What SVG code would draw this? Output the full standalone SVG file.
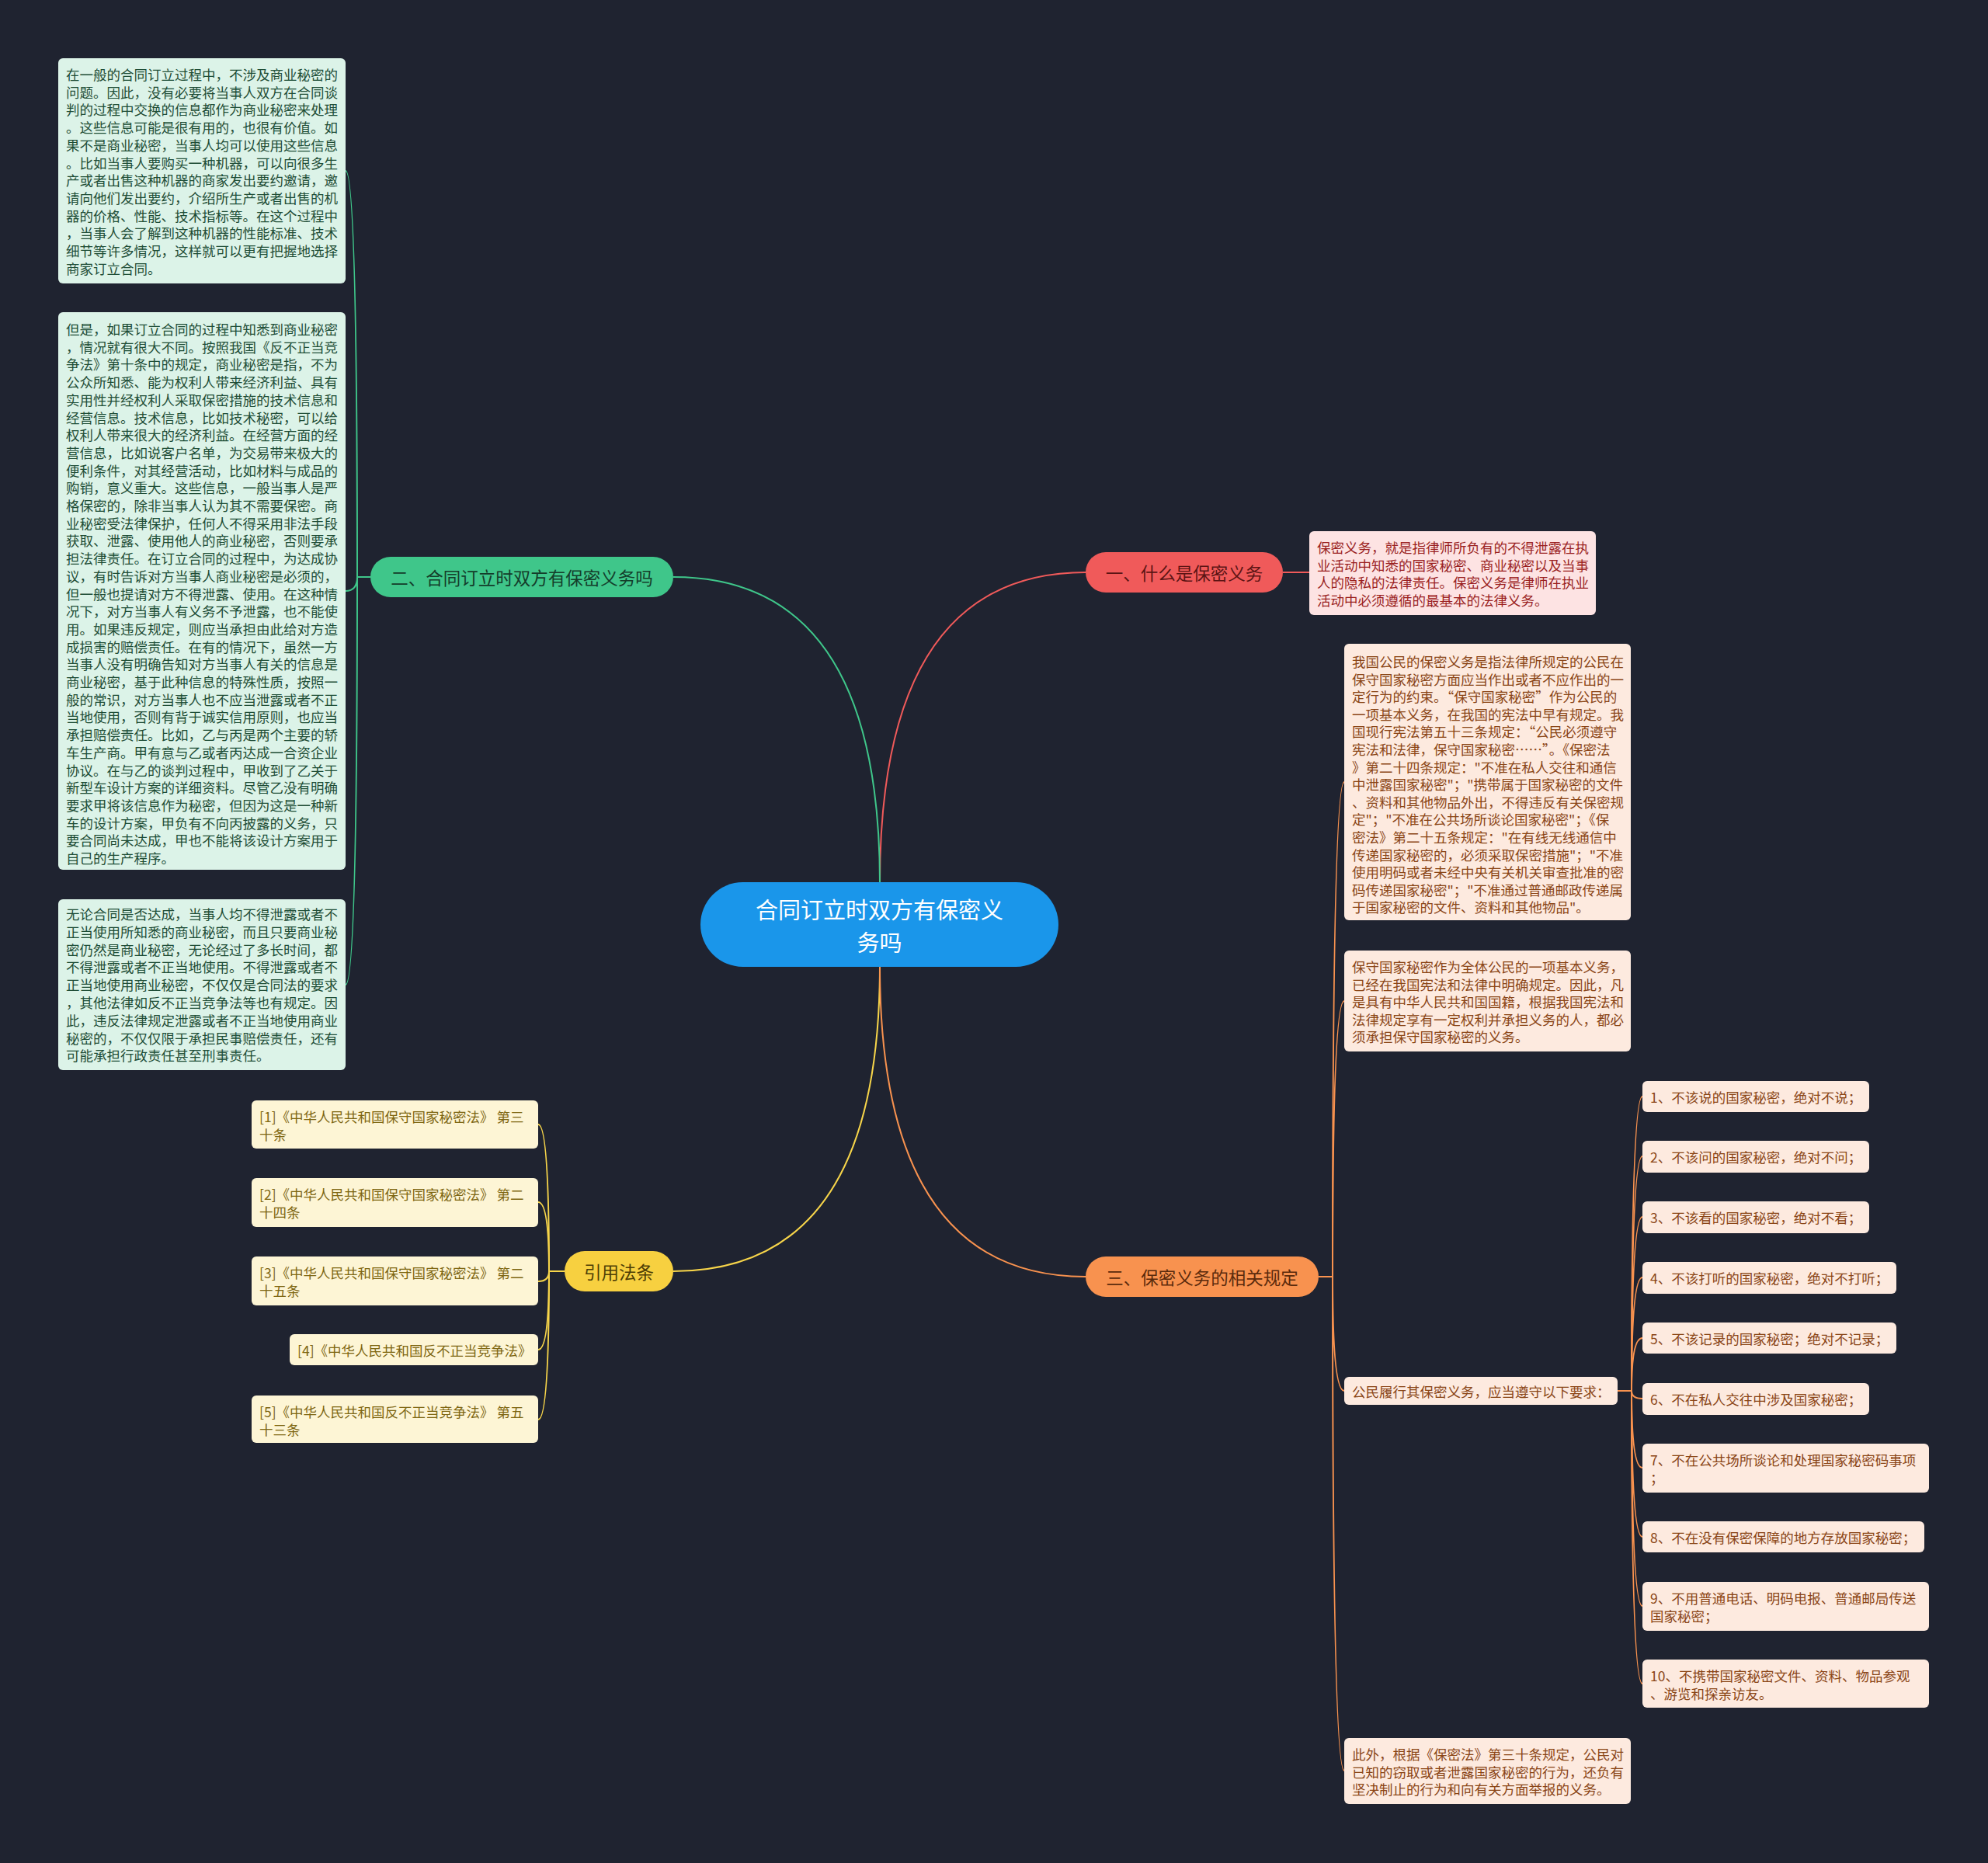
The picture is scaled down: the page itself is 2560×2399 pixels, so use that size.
<svg xmlns="http://www.w3.org/2000/svg" width="2560" height="2399" viewBox="0 0 2560 2399">
<style>
text{font-family:"Noto Sans CJK SC","Noto Sans",sans-serif;dominant-baseline:central}
.lf{font-size:17.5px}
.br{font-size:22.5px;text-anchor:middle}
.g rect{fill:#dcf3e8}.g text{fill:#1e4d36}
.r rect{fill:#fde3e3}.r text{fill:#9a1f1f}
.o rect{fill:#fdeadf}.o text{fill:#8a4516}
.y rect{fill:#fdf5d5}.y text{fill:#7d6611}
.c{fill:none;stroke-width:2}
</style>
<rect width="2560" height="2399" fill="#1f2330"/>
<g id="connectors">
<path class="c" stroke="#f05a5a" d="M1133,1137 Q1133,737 1398,737"/>
<path class="c" stroke="#3fc68a" d="M1133,1137 Q1133,743 867,743"/>
<path class="c" stroke="#f7d54a" d="M1133,1244 Q1133,1637 867,1637"/>
<path class="c" stroke="#f8924f" d="M1133,1244 Q1133,1644 1398,1644"/>
<path class="c" stroke="#f05a5a" d="M1652,737 L1686,737"/>
<path class="c" stroke="#3fc68a" d="M477,743 L460,743 Q460,220 445,220"/>
<path class="c" stroke="#3fc68a" d="M477,743 L460,743 Q460,761 445,761"/>
<path class="c" stroke="#3fc68a" d="M477,743 L460,743 Q460,1268 445,1268"/>
<path class="c" stroke="#f7d54a" d="M727,1637 L707,1637 Q707,1448 693,1448"/>
<path class="c" stroke="#f7d54a" d="M727,1637 L707,1637 Q707,1548 693,1548"/>
<path class="c" stroke="#f7d54a" d="M727,1637 L707,1637 Q707,1650 693,1650"/>
<path class="c" stroke="#f7d54a" d="M727,1637 L707,1637 Q707,1738 693,1738"/>
<path class="c" stroke="#f7d54a" d="M727,1637 L707,1637 Q707,1828 693,1828"/>
<path class="c" stroke="#f8924f" d="M1698,1644 L1716,1644 Q1716,1007 1731,1007"/>
<path class="c" stroke="#f8924f" d="M1698,1644 L1716,1644 Q1716,1289 1731,1289"/>
<path class="c" stroke="#f8924f" d="M1698,1644 L1716,1644 Q1716,1791 1731,1791"/>
<path class="c" stroke="#f8924f" d="M1698,1644 L1716,1644 Q1716,2280 1731,2280"/>
<path class="c" stroke="#f8924f" d="M2083,1791 L2101,1791 Q2101,1412 2115,1412"/>
<path class="c" stroke="#f8924f" d="M2083,1791 L2101,1791 Q2101,1489 2115,1489"/>
<path class="c" stroke="#f8924f" d="M2083,1791 L2101,1791 Q2101,1567 2115,1567"/>
<path class="c" stroke="#f8924f" d="M2083,1791 L2101,1791 Q2101,1645 2115,1645"/>
<path class="c" stroke="#f8924f" d="M2083,1791 L2101,1791 Q2101,1723 2115,1723"/>
<path class="c" stroke="#f8924f" d="M2083,1791 L2101,1791 Q2101,1801 2115,1801"/>
<path class="c" stroke="#f8924f" d="M2083,1791 L2101,1791 Q2101,1890 2115,1890"/>
<path class="c" stroke="#f8924f" d="M2083,1791 L2101,1791 Q2101,1979 2115,1979"/>
<path class="c" stroke="#f8924f" d="M2083,1791 L2101,1791 Q2101,2068 2115,2068"/>
<path class="c" stroke="#f8924f" d="M2083,1791 L2101,1791 Q2101,2168 2115,2168"/>
</g>
<g id="root">
<rect x="902" y="1136" width="461" height="109" rx="54.5" fill="#1a96ea"/>
<text x="1132.5" y="1170" font-size="29" fill="#ffffff" text-anchor="middle">合同订立时双方有保密义</text>
<text x="1132.5" y="1212" font-size="29" fill="#ffffff" text-anchor="middle">务吗</text>
</g>
<g id="b1">
<rect x="1398" y="711" width="254" height="52" rx="26" fill="#f05a5a"/>
<text class="br" x="1525" y="737" fill="#5c1414">一、什么是保密义务</text>
</g>
<g id="b2">
<rect x="477" y="717" width="390" height="52" rx="26" fill="#3fc68a"/>
<text class="br" x="672" y="743" fill="#143d2a">二、合同订立时双方有保密义务吗</text>
</g>
<g id="b3">
<rect x="1398" y="1618" width="300" height="52" rx="26" fill="#f8924f"/>
<text class="br" x="1548" y="1644" fill="#5a2a0c">三、保密义务的相关规定</text>
</g>
<g id="b4">
<rect x="727" y="1611" width="140" height="52" rx="26" fill="#f7d040"/>
<text class="br" x="797" y="1637" fill="#4d3d05">引用法条</text>
</g>
<g id="r1" class="r">
<rect x="1686" y="684" width="369" height="108" rx="6"/>
<text class="lf"><tspan x="1696" y="704">保密义务，就是指律师所负有的不得泄露在执</tspan><tspan x="1696" y="726.5">业活动中知悉的国家秘密、商业秘密以及当事</tspan><tspan x="1696" y="749">人的隐私的法律责任。保密义务是律师在执业</tspan><tspan x="1696" y="771.5">活动中必须遵循的最基本的法律义务。</tspan></text>
</g>
<g id="g1" class="g">
<rect x="75" y="75" width="370" height="290" rx="6"/>
<text class="lf"><tspan x="85" y="95">在一般的合同订立过程中，不涉及商业秘密的</tspan><tspan x="85" y="117.7">问题。因此，没有必要将当事人双方在合同谈</tspan><tspan x="85" y="140.4">判的过程中交换的信息都作为商业秘密来处理</tspan><tspan x="85" y="163.1">。这些信息可能是很有用的，也很有价值。如</tspan><tspan x="85" y="185.8">果不是商业秘密，当事人均可以使用这些信息</tspan><tspan x="85" y="208.5">。比如当事人要购买一种机器，可以向很多生</tspan><tspan x="85" y="231.2">产或者出售这种机器的商家发出要约邀请，邀</tspan><tspan x="85" y="253.9">请向他们发出要约，介绍所生产或者出售的机</tspan><tspan x="85" y="276.6">器的价格、性能、技术指标等。在这个过程中</tspan><tspan x="85" y="299.3">，当事人会了解到这种机器的性能标准、技术</tspan><tspan x="85" y="322">细节等许多情况，这样就可以更有把握地选择</tspan><tspan x="85" y="344.7">商家订立合同。</tspan></text>
</g>
<g id="g2" class="g">
<rect x="75" y="402" width="370" height="718" rx="6"/>
<text class="lf"><tspan x="85" y="423">但是，如果订立合同的过程中知悉到商业秘密</tspan><tspan x="85" y="445.7">，情况就有很大不同。按照我国《反不正当竞</tspan><tspan x="85" y="468.4">争法》第十条中的规定，商业秘密是指，不为</tspan><tspan x="85" y="491.1">公众所知悉、能为权利人带来经济利益、具有</tspan><tspan x="85" y="513.8">实用性并经权利人采取保密措施的技术信息和</tspan><tspan x="85" y="536.5">经营信息。技术信息，比如技术秘密，可以给</tspan><tspan x="85" y="559.2">权利人带来很大的经济利益。在经营方面的经</tspan><tspan x="85" y="581.9">营信息，比如说客户名单，为交易带来极大的</tspan><tspan x="85" y="604.6">便利条件，对其经营活动，比如材料与成品的</tspan><tspan x="85" y="627.3">购销，意义重大。这些信息，一般当事人是严</tspan><tspan x="85" y="650">格保密的，除非当事人认为其不需要保密。商</tspan><tspan x="85" y="672.7">业秘密受法律保护，任何人不得采用非法手段</tspan><tspan x="85" y="695.4">获取、泄露、使用他人的商业秘密，否则要承</tspan><tspan x="85" y="718.1">担法律责任。在订立合同的过程中，为达成协</tspan><tspan x="85" y="740.8">议，有时告诉对方当事人商业秘密是必须的，</tspan><tspan x="85" y="763.5">但一般也提请对方不得泄露、使用。在这种情</tspan><tspan x="85" y="786.2">况下，对方当事人有义务不予泄露，也不能使</tspan><tspan x="85" y="808.9">用。如果违反规定，则应当承担由此给对方造</tspan><tspan x="85" y="831.6">成损害的赔偿责任。在有的情况下，虽然一方</tspan><tspan x="85" y="854.3">当事人没有明确告知对方当事人有关的信息是</tspan><tspan x="85" y="877">商业秘密，基于此种信息的特殊性质，按照一</tspan><tspan x="85" y="899.7">般的常识，对方当事人也不应当泄露或者不正</tspan><tspan x="85" y="922.4">当地使用，否则有背于诚实信用原则，也应当</tspan><tspan x="85" y="945.1">承担赔偿责任。比如，乙与丙是两个主要的轿</tspan><tspan x="85" y="967.8">车生产商。甲有意与乙或者丙达成一合资企业</tspan><tspan x="85" y="990.5">协议。在与乙的谈判过程中，甲收到了乙关于</tspan><tspan x="85" y="1013.2">新型车设计方案的详细资料。尽管乙没有明确</tspan><tspan x="85" y="1035.9">要求甲将该信息作为秘密，但因为这是一种新</tspan><tspan x="85" y="1058.6">车的设计方案，甲负有不向丙披露的义务，只</tspan><tspan x="85" y="1081.3">要合同尚未达成，甲也不能将该设计方案用于</tspan><tspan x="85" y="1104">自己的生产程序。</tspan></text>
</g>
<g id="g3" class="g">
<rect x="75" y="1158" width="370" height="220" rx="6"/>
<text class="lf"><tspan x="85" y="1176">无论合同是否达成，当事人均不得泄露或者不</tspan><tspan x="85" y="1198.8">正当使用所知悉的商业秘密，而且只要商业秘</tspan><tspan x="85" y="1221.6">密仍然是商业秘密，无论经过了多长时间，都</tspan><tspan x="85" y="1244.4">不得泄露或者不正当地使用。不得泄露或者不</tspan><tspan x="85" y="1267.2">正当地使用商业秘密，不仅仅是合同法的要求</tspan><tspan x="85" y="1290">，其他法律如反不正当竞争法等也有规定。因</tspan><tspan x="85" y="1312.8">此，违反法律规定泄露或者不正当地使用商业</tspan><tspan x="85" y="1335.6">秘密的，不仅仅限于承担民事赔偿责任，还有</tspan><tspan x="85" y="1358.4">可能承担行政责任甚至刑事责任。</tspan></text>
</g>
<g id="y1" class="y">
<rect x="324" y="1417" width="369" height="62" rx="6"/>
<text class="lf"><tspan x="334" y="1437">[1]《中华人民共和国保守国家秘密法》 第三</tspan><tspan x="334" y="1460">十条</tspan></text>
</g>
<g id="y2" class="y">
<rect x="324" y="1517" width="369" height="63" rx="6"/>
<text class="lf"><tspan x="334" y="1537">[2]《中华人民共和国保守国家秘密法》 第二</tspan><tspan x="334" y="1560">十四条</tspan></text>
</g>
<g id="y3" class="y">
<rect x="324" y="1618" width="369" height="63" rx="6"/>
<text class="lf"><tspan x="334" y="1638">[3]《中华人民共和国保守国家秘密法》 第二</tspan><tspan x="334" y="1661">十五条</tspan></text>
</g>
<g id="y4" class="y">
<rect x="373" y="1718" width="320" height="40" rx="6"/>
<text class="lf" x="383" y="1738">[4]《中华人民共和国反不正当竞争法》</text>
</g>
<g id="y5" class="y">
<rect x="324" y="1797" width="369" height="61" rx="6"/>
<text class="lf"><tspan x="334" y="1817">[5]《中华人民共和国反不正当竞争法》 第五</tspan><tspan x="334" y="1840">十三条</tspan></text>
</g>
<g id="o1" class="o">
<rect x="1731" y="829" width="369" height="356" rx="6"/>
<text class="lf"><tspan x="1741" y="851">我国公民的保密义务是指法律所规定的公民在</tspan><tspan x="1741" y="873.6">保守国家秘密方面应当作出或者不应作出的一</tspan><tspan x="1741" y="896.2">定行为的约束。“保守国家秘密”作为公民的</tspan><tspan x="1741" y="918.8">一项基本义务，在我国的宪法中早有规定。我</tspan><tspan x="1741" y="941.4">国现行宪法第五十三条规定：“公民必须遵守</tspan><tspan x="1741" y="964">宪法和法律，保守国家秘密……”。《保密法</tspan><tspan x="1741" y="986.6">》第二十四条规定："不准在私人交往和通信</tspan><tspan x="1741" y="1009.2">中泄露国家秘密"；"携带属于国家秘密的文件</tspan><tspan x="1741" y="1031.8">、资料和其他物品外出，不得违反有关保密规</tspan><tspan x="1741" y="1054.4">定"；"不准在公共场所谈论国家秘密"；《保</tspan><tspan x="1741" y="1077">密法》第二十五条规定："在有线无线通信中</tspan><tspan x="1741" y="1099.6">传递国家秘密的，必须采取保密措施"；"不准</tspan><tspan x="1741" y="1122.2">使用明码或者未经中央有关机关审查批准的密</tspan><tspan x="1741" y="1144.8">码传递国家秘密"；"不准通过普通邮政传递属</tspan><tspan x="1741" y="1167.4">于国家秘密的文件、资料和其他物品"。</tspan></text>
</g>
<g id="o2" class="o">
<rect x="1731" y="1224" width="369" height="130" rx="6"/>
<text class="lf"><tspan x="1741" y="1244">保守国家秘密作为全体公民的一项基本义务，</tspan><tspan x="1741" y="1266.6">已经在我国宪法和法律中明确规定。因此，凡</tspan><tspan x="1741" y="1289.2">是具有中华人民共和国国籍，根据我国宪法和</tspan><tspan x="1741" y="1311.8">法律规定享有一定权利并承担义务的人，都必</tspan><tspan x="1741" y="1334.4">须承担保守国家秘密的义务。</tspan></text>
</g>
<g id="o3" class="o">
<rect x="1731" y="1773" width="352" height="36" rx="6"/>
<text class="lf" x="1741" y="1791">公民履行其保密义务，应当遵守以下要求：</text>
</g>
<g id="o4" class="o">
<rect x="1731" y="2238" width="369" height="85" rx="6"/>
<text class="lf"><tspan x="1741" y="2258">此外，根据《保密法》第三十条规定，公民对</tspan><tspan x="1741" y="2280.6">已知的窃取或者泄露国家秘密的行为，还负有</tspan><tspan x="1741" y="2303.2">坚决制止的行为和向有关方面举报的义务。</tspan></text>
</g>
<g id="i1" class="o"><rect x="2115" y="1392" width="292" height="40" rx="6"/><text class="lf" x="2125" y="1412">1、不该说的国家秘密，绝对不说；</text></g>
<g id="i2" class="o"><rect x="2115" y="1469" width="292" height="41" rx="6"/><text class="lf" x="2125" y="1489.5">2、不该问的国家秘密，绝对不问；</text></g>
<g id="i3" class="o"><rect x="2115" y="1547" width="292" height="41" rx="6"/><text class="lf" x="2125" y="1567.5">3、不该看的国家秘密，绝对不看；</text></g>
<g id="i4" class="o"><rect x="2115" y="1625" width="327" height="41" rx="6"/><text class="lf" x="2125" y="1645.5">4、不该打听的国家秘密，绝对不打听；</text></g>
<g id="i5" class="o"><rect x="2115" y="1703" width="327" height="40" rx="6"/><text class="lf" x="2125" y="1723">5、不该记录的国家秘密；绝对不记录；</text></g>
<g id="i6" class="o"><rect x="2115" y="1781" width="292" height="41" rx="6"/><text class="lf" x="2125" y="1801.5">6、不在私人交往中涉及国家秘密；</text></g>
<g id="i7" class="o"><rect x="2115" y="1859" width="369" height="63" rx="6"/><text class="lf"><tspan x="2125" y="1879">7、不在公共场所谈论和处理国家秘密码事项</tspan><tspan x="2125" y="1902">；</tspan></text></g>
<g id="i8" class="o"><rect x="2115" y="1959" width="363" height="40" rx="6"/><text class="lf" x="2125" y="1979">8、不在没有保密保障的地方存放国家秘密；</text></g>
<g id="i9" class="o"><rect x="2115" y="2037" width="369" height="63" rx="6"/><text class="lf"><tspan x="2125" y="2057">9、不用普通电话、明码电报、普通邮局传送</tspan><tspan x="2125" y="2080">国家秘密；</tspan></text></g>
<g id="i10" class="o"><rect x="2115" y="2137" width="369" height="62" rx="6"/><text class="lf"><tspan x="2125" y="2157">10、不携带国家秘密文件、资料、物品参观</tspan><tspan x="2125" y="2180">、游览和探亲访友。</tspan></text></g>
</svg>
